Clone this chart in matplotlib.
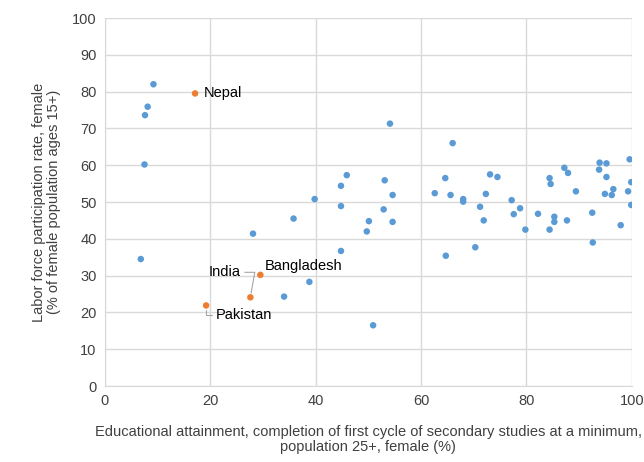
import matplotlib.pyplot as plt

plt.rcParams['font.family'] = ['Liberation Sans', 'DejaVu Sans']

# other countries (blue)
edu = [9.2, 8.1, 7.6, 7.5, 28.1, 35.8, 6.8, 34.0, 38.8, 44.8, 49.7, 50.1, 50.9,
       54.1, 66.0, 45.9, 44.8, 53.1, 39.8, 54.6, 44.8, 52.9, 54.6, 64.6, 62.6,
       65.6, 68.0, 68.0, 73.1, 74.5, 72.3, 71.2, 71.9, 70.3, 64.7, 77.2, 77.6,
       78.8, 79.8, 82.2, 84.4, 84.6, 85.3, 85.3, 84.4, 87.2, 87.9, 89.4, 87.7,
       92.5, 92.6, 93.9, 93.8, 95.2, 95.2, 94.9, 96.2, 96.5, 97.9, 99.3, 99.6,
       99.9, 99.9]
lfp = [82.0, 75.9, 73.6, 60.2, 41.4, 45.5, 34.5, 24.3, 28.3, 36.7, 42.0, 44.8, 16.5,
       71.3, 66.0, 57.3, 54.4, 55.9, 50.8, 51.9, 48.9, 48.0, 44.6, 56.5, 52.4,
       51.9, 50.8, 50.1, 57.5, 56.8, 52.2, 48.7, 45.0, 37.7, 35.4, 50.5, 46.7,
       48.3, 42.5, 46.8, 56.5, 54.9, 46.0, 44.6, 42.5, 59.3, 57.9, 52.9, 45.0,
       47.1, 39.0, 60.7, 58.8, 60.5, 56.8, 52.2, 51.9, 53.5, 43.7, 52.9, 61.6,
       55.4, 49.2]

# south asia (orange)
sa_names = ['Nepal', 'India', 'Bangladesh', 'Pakistan']
sa_edu = [17.1, 27.6, 29.5, 19.2]
sa_lfp = [79.5, 24.1, 30.2, 21.9]

fig = plt.figure(figsize=(6.44, 4.62), dpi=100)
ax = fig.add_axes([0.163, 0.1645, 0.818, 0.7965])

ax.scatter(edu, lfp, s=22, color='#5B9BD5', edgecolors='none', zorder=3)
ax.scatter(sa_edu, sa_lfp, s=22, color='#ED7D31', edgecolors='none', zorder=3)

ax.set_xlim(0, 100)
ax.set_ylim(0, 100)
ax.set_xticks(range(0, 101, 20))
ax.set_yticks(range(0, 101, 10))
ax.grid(True, color='#d9d9d9', linewidth=1)
ax.set_axisbelow(True)
for s in ['top', 'right']:
    ax.spines[s].set_visible(False)
for s in ['left', 'bottom']:
    ax.spines[s].set_color('#d9d9d9')
ax.tick_params(length=0, labelsize=10.5, colors='#404040', pad=6)
for lab in ax.get_xticklabels() + ax.get_yticklabels():
    lab.set_color('#404040')

txt = dict(fontsize=10.5, color='black')
ax.annotate('Nepal', (sa_edu[0], sa_lfp[0]), xytext=(6, 0), textcoords='offset points',
            va='center', ha='left', **txt)
ax.annotate('Bangladesh', (sa_edu[2], sa_lfp[2]), xytext=(3, 1), textcoords='offset points',
            va='bottom', ha='left', **txt)
ax.annotate('India', (sa_edu[1], sa_lfp[1]), xytext=(-7, 18), textcoords='offset points',
            va='center', ha='right',
            arrowprops=dict(arrowstyle='-', color='#a6a6a6', lw=0.8,
                            connectionstyle='angle,angleA=0,angleB=80,rad=0',
                            shrinkA=1, shrinkB=3), **txt)
ax.annotate('Pakistan', (sa_edu[3], sa_lfp[3]), xytext=(7, -7), textcoords='offset points',
            va='center', ha='left',
            arrowprops=dict(arrowstyle='-', color='#a6a6a6', lw=0.8,
                            connectionstyle='angle,angleA=0,angleB=90,rad=0',
                            shrinkA=1, shrinkB=3), **txt)

ax.set_xlabel('Educational attainment, completion of first cycle of secondary studies at a minimum,\n'
              'population 25+, female (%)', fontsize=10.5, color='#404040', labelpad=12,
              linespacing=1.1)
ax.set_ylabel('Labor force participation rate, female\n(% of female population ages 15+)',
              fontsize=10.5, color='#404040', labelpad=8, linespacing=1.1)

fig.savefig('out.png', dpi=100)
